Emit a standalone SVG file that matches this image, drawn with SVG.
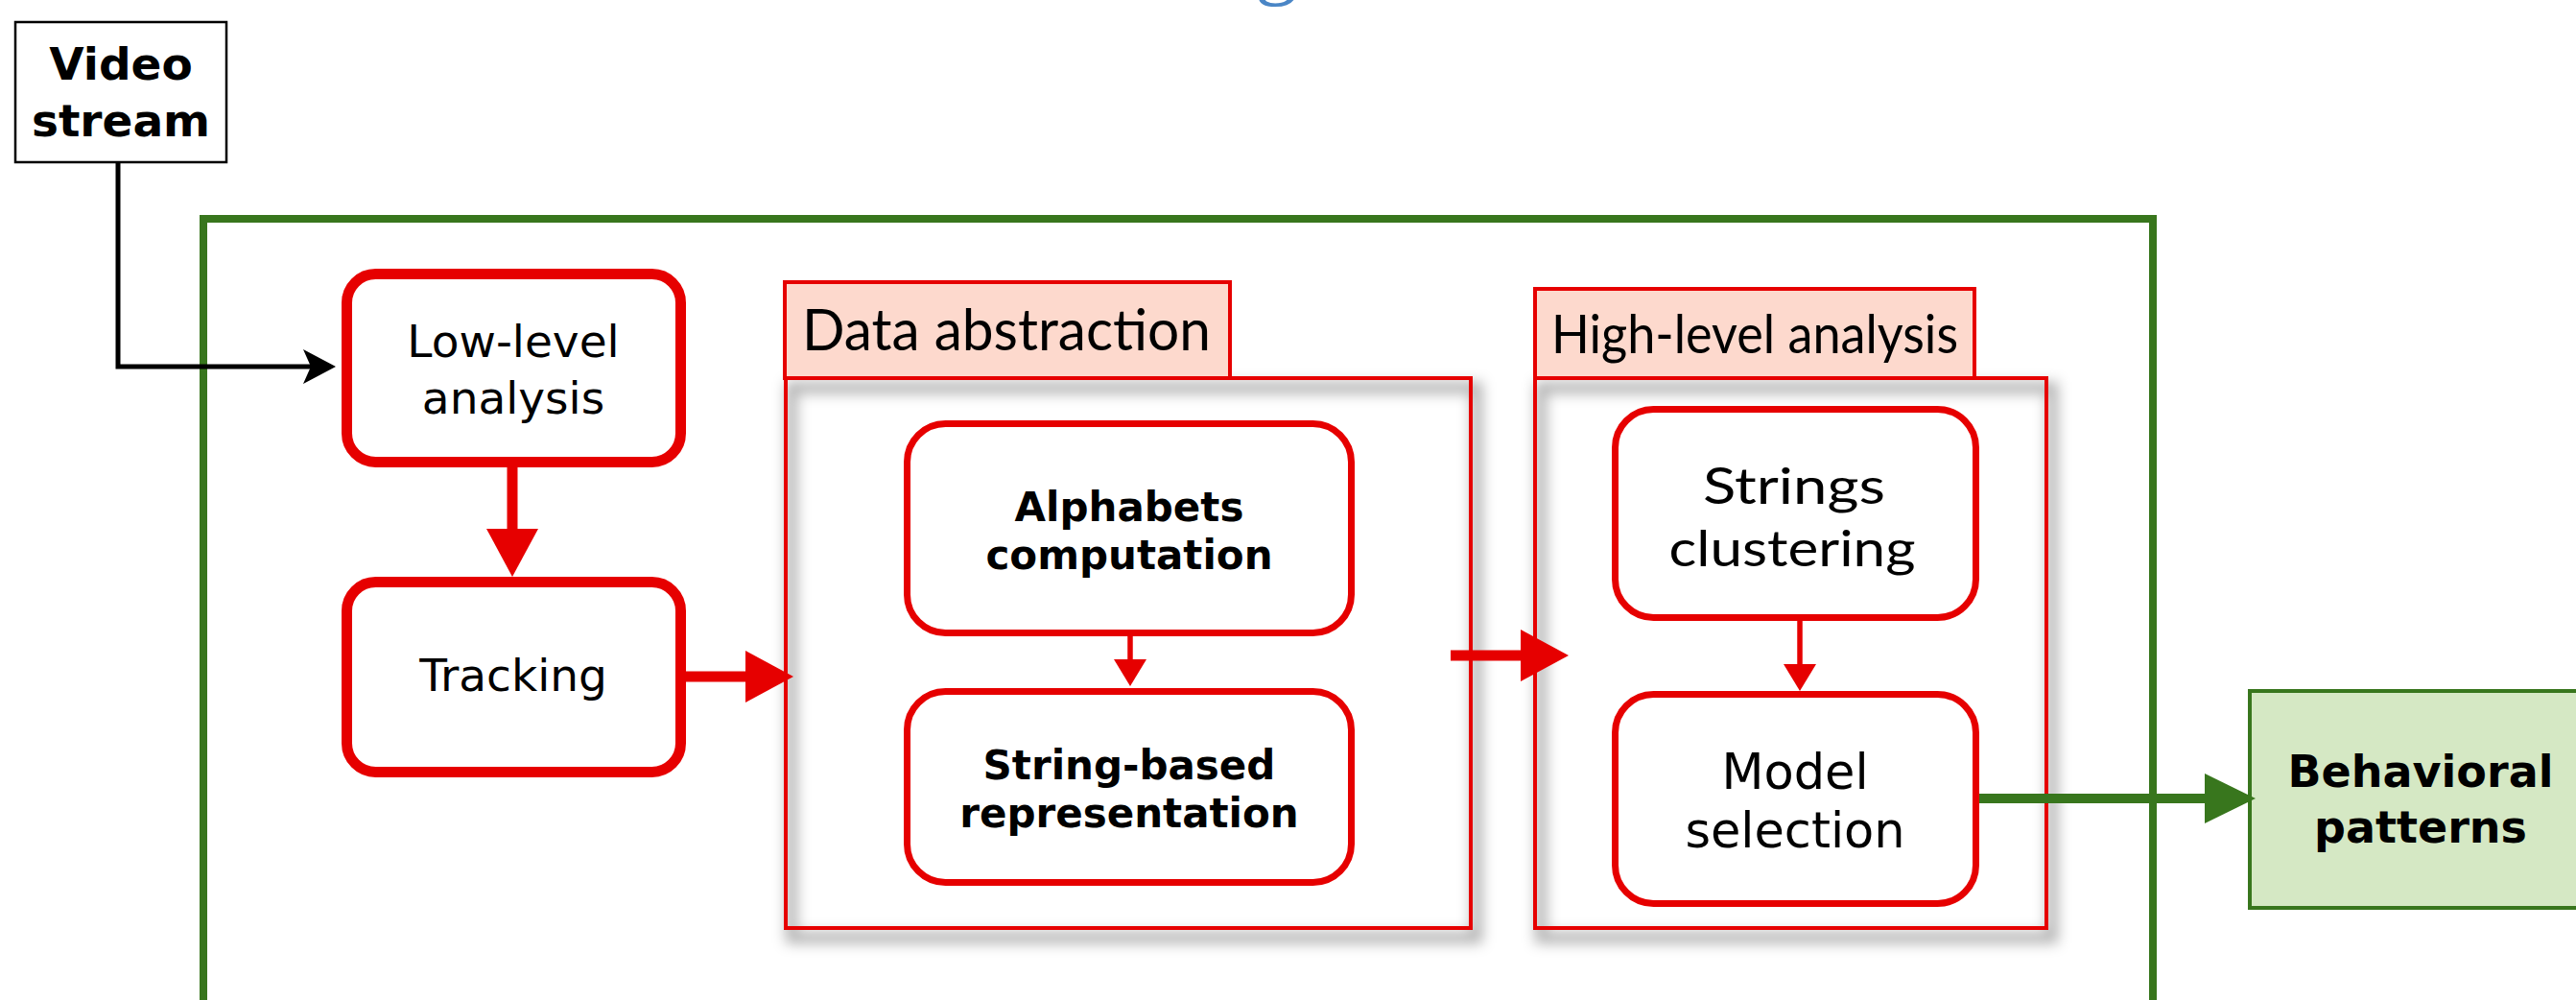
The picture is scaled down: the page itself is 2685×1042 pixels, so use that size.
<svg xmlns="http://www.w3.org/2000/svg" width="2685" height="1042" viewBox="0 0 2685 1042">
  <style>
    .bg { fill: #ffffff; }
    .frame { fill: none; stroke: #38761d; stroke-width: 8; }
    .step { fill: #ffffff; stroke: #e60000; stroke-width: 11; }
    .sub { fill: #ffffff; stroke: #e60000; stroke-width: 7; }
    .tab { fill: #fdd9cd; stroke: #e60000; stroke-width: 4; }
    .lane { fill: none; stroke: #e60000; stroke-width: 4; }
    .lane-shadow { fill: none; stroke: #000000; stroke-opacity: 0.3; stroke-width: 12; }
    .io { fill: #ffffff; stroke: #000000; stroke-width: 2.5; }
    .out { fill: #d5e8c4; stroke: #38761d; stroke-width: 4; }
    .t-bold { font-family: "DejaVu Sans", Verdana, sans-serif; font-weight: bold; fill: #000000; text-anchor: middle; }
    .t-reg { font-family: "DejaVu Sans", Verdana, sans-serif; fill: #000000; text-anchor: middle; }
    .t-humanist { font-family: Lato, "Open Sans", sans-serif; fill: #000000; }
    .title { font-family: "Liberation Serif", serif; fill: #4a86c6; }
    .c-red-thick { fill: none; stroke: #e60000; stroke-width: 11; }
    .c-red-thin { fill: none; stroke: #e60000; stroke-width: 5.5; }
    .c-green { fill: none; stroke: #38761d; stroke-width: 10; }
    .c-black { fill: none; stroke: #000000; stroke-width: 5; }
  </style>
  <defs>
    <marker id="head-red-lg" markerUnits="userSpaceOnUse" markerWidth="54" markerHeight="56" refX="0" refY="27" orient="auto">
      <path d="M0,0 L50,27 L0,54 Z" fill="#e60000"/>
    </marker>
    <marker id="head-red-sm" markerUnits="userSpaceOnUse" markerWidth="32" markerHeight="36" refX="0" refY="17" orient="auto">
      <path d="M0,0 L28,17 L0,34 Z" fill="#e60000"/>
    </marker>
    <marker id="head-green" markerUnits="userSpaceOnUse" markerWidth="56" markerHeight="54" refX="0" refY="26" orient="auto">
      <path d="M0,0 L53,26 L0,52 Z" fill="#38761d"/>
    </marker>
    <marker id="head-black" markerUnits="userSpaceOnUse" markerWidth="38" markerHeight="38" refX="8" refY="18" orient="auto">
      <path d="M34,18 L0,0 L8,18 L0,36 Z" fill="#000000"/>
    </marker>
    <filter id="soft" x="-10%" y="-10%" width="120%" height="120%">
      <feGaussianBlur stdDeviation="7"/>
    </filter>
  </defs>

  <rect class="bg" x="0" y="0" width="2685" height="1042"/>

  <!-- heading, only its lowest stroke falls inside the canvas -->
  <text class="title" x="1308" y="-12.5" font-size="90">g</text>

  <!-- outer system boundary -->
  <rect id="system" class="frame" x="212" y="228" width="2032" height="900"/>

  <!-- input -->
  <g id="video-stream">
    <rect class="io" x="16" y="23" width="220" height="146"/>
    <text class="t-bold" x="126" y="83" font-size="47">Video</text>
    <text class="t-bold" x="126" y="142" font-size="47">stream</text>
  </g>

  <g id="low-level-analysis">
    <rect class="step" x="361.5" y="285.5" width="348" height="196" rx="30"/>
    <text class="t-reg" x="535" y="372" font-size="47">Low-level</text>
    <text class="t-reg" x="535" y="431" font-size="47">analysis</text>
  </g>

  <g id="tracking">
    <rect class="step" x="361.5" y="606.5" width="348" height="198" rx="30"/>
    <text class="t-reg" x="535" y="720" font-size="47">Tracking</text>
  </g>

  <!-- Data abstraction lane -->
  <g id="data-abstraction">
    <rect class="lane-shadow" x="825" y="404" width="714" height="573" filter="url(#soft)"/>
    <rect class="tab" x="818" y="294" width="464" height="100"/>
    <rect class="lane" x="819" y="394" width="714" height="573"/>
    <text class="t-humanist" x="836" y="365" font-size="60" textLength="426" lengthAdjust="spacingAndGlyphs">Data abstraction</text>
  </g>

  <g id="alphabets-computation">
    <rect class="sub" x="945.5" y="441.5" width="463" height="218" rx="40"/>
    <text class="t-bold" x="1177" y="543" font-size="42">Alphabets</text>
    <text class="t-bold" x="1177" y="593" font-size="42">computation</text>
  </g>

  <g id="string-based-representation">
    <rect class="sub" x="945.5" y="720.5" width="463" height="199" rx="40"/>
    <text class="t-bold" x="1177" y="812" font-size="42">String-based</text>
    <text class="t-bold" x="1177" y="862" font-size="42">representation</text>
  </g>

  <!-- High-level analysis lane -->
  <g id="high-level-analysis">
    <rect class="lane-shadow" x="1606" y="404" width="533" height="573" filter="url(#soft)"/>
    <rect class="tab" x="1600" y="301" width="458" height="93"/>
    <rect class="lane" x="1600" y="394" width="533" height="573"/>
    <text class="t-humanist" x="1617" y="368" font-size="56" textLength="424" lengthAdjust="spacingAndGlyphs">High-level analysis</text>
  </g>

  <g id="strings-clustering">
    <rect class="sub" x="1683.5" y="426.5" width="376" height="217" rx="40"/>
    <text class="t-humanist" x="1870" y="525" font-size="53" text-anchor="middle" textLength="190" lengthAdjust="spacingAndGlyphs">Strings</text>
    <text class="t-humanist" x="1868" y="590" font-size="53" text-anchor="middle" textLength="257" lengthAdjust="spacingAndGlyphs">clustering</text>
  </g>

  <g id="model-selection">
    <rect class="sub" x="1683.5" y="723.5" width="376" height="218" rx="40"/>
    <text class="t-reg" x="1871" y="822" font-size="51">Model</text>
    <text class="t-reg" x="1871" y="883" font-size="51">selection</text>
  </g>

  <!-- output -->
  <g id="behavioral-patterns">
    <rect class="out" x="2345" y="720" width="380" height="226"/>
    <text class="t-bold" x="2523" y="820" font-size="46">Behavioral</text>
    <text class="t-bold" x="2523" y="878" font-size="46">patterns</text>
  </g>

  <!-- connectors -->
  <g id="connectors">
    <path class="c-black" d="M123,169 V382 H324" marker-end="url(#head-black)"/>
    <path class="c-red-thick" d="M534,487 V551" marker-end="url(#head-red-lg)"/>
    <path class="c-red-thick" d="M715,705 H777" marker-end="url(#head-red-lg)"/>
    <path class="c-red-thin" d="M1178,663 V687" marker-end="url(#head-red-sm)"/>
    <path class="c-red-thick" d="M1512,683 H1585" marker-end="url(#head-red-lg)"/>
    <path class="c-red-thin" d="M1876,647 V692" marker-end="url(#head-red-sm)"/>
    <path class="c-green" d="M2063,832 H2298" marker-end="url(#head-green)"/>
  </g>
</svg>
